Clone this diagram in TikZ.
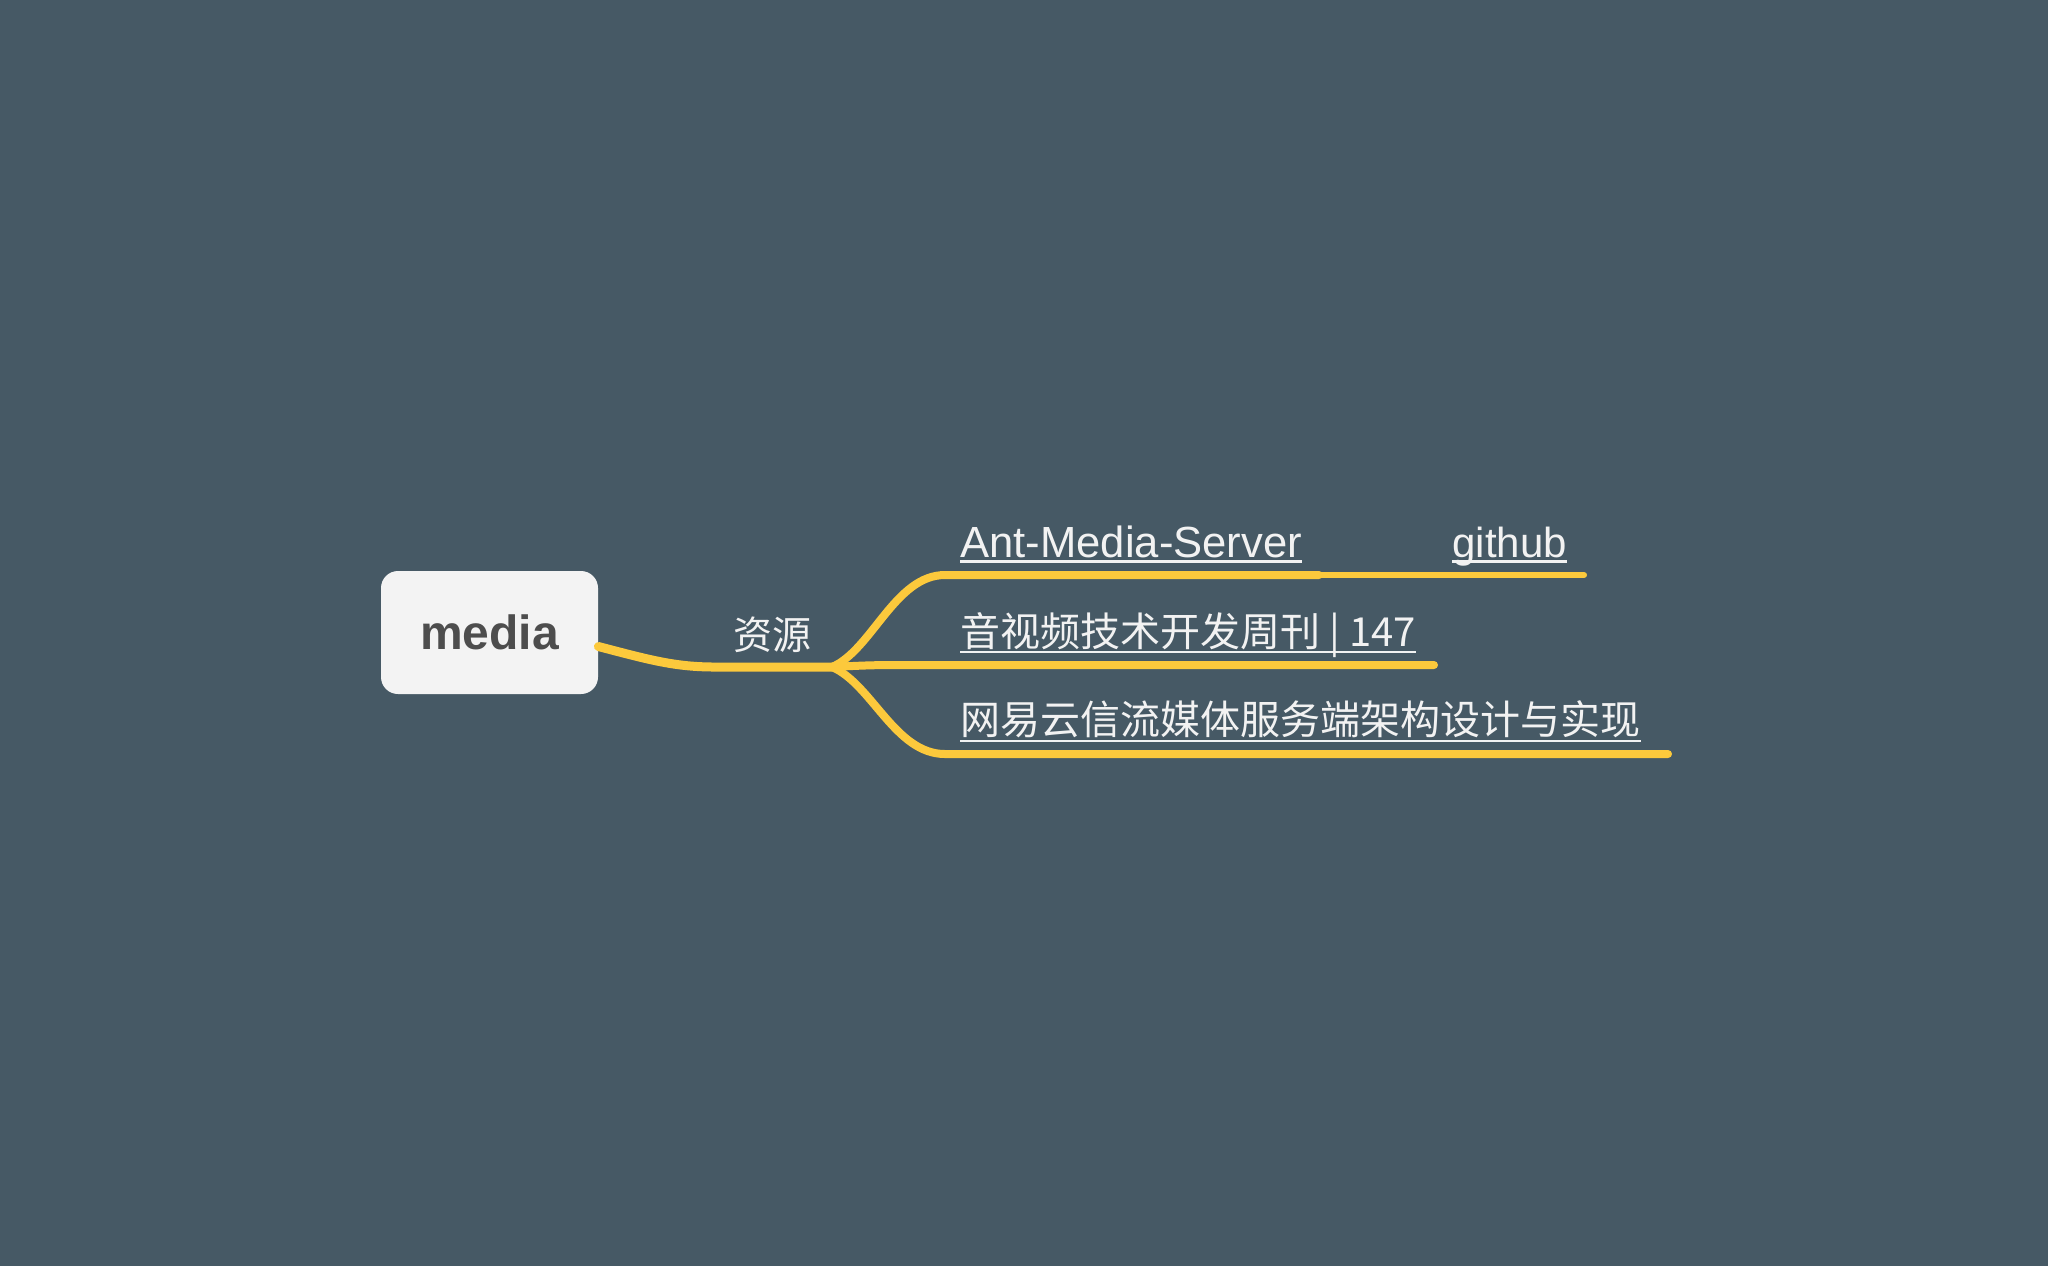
\documentclass[tikz,border=0pt]{standalone}
\usepackage{fontspec}
\setmainfont{Liberation Sans}
\newfontfamily\cjk{Noto Sans CJK SC}
\definecolor{bg}{RGB}{70,89,101}
\definecolor{branch}{RGB}{252,201,60}
\definecolor{rootfill}{RGB}{243,243,243}
\definecolor{roottext}{RGB}{77,77,77}
\definecolor{leaf}{RGB}{242,242,242}
\tikzset{
  rootbox/.style={fill=rootfill, rounded corners=8.5pt, minimum width=108.5pt, minimum height=61.5pt, inner sep=0pt,
    text=roottext, font=\fontsize{24}{28}\selectfont\bfseries},
  latinleaf/.style={inner sep=0pt, text=leaf, anchor=base west, font=\fontsize{21}{24}\selectfont},
  cjkleaf/.style={inner sep=0pt, text=leaf, anchor=base west, font=\cjk\fontsize{20}{24}\selectfont},
  reslabel/.style={inner sep=0pt, text=leaf, font=\cjk\fontsize{19.5}{24}\selectfont},
  mainline/.style={draw=branch, line width=4.5pt, line cap=round},
  branchline/.style={draw=branch, line width=4pt, line cap=round},
  subline/.style={draw=branch, line width=3pt, line cap=round},
  ul/.style={draw=leaf, line width=1.3pt}
}
\begin{document}
\begin{tikzpicture}[x=0.5pt,y=-0.5pt]
\fill[bg] (0,0) rectangle (2048,1266);
\useasboundingbox (0,0) rectangle (2048,1266);

% root
\node[rootbox] (root) at (489.5,632.5) {media};
\node[reslabel] (res) at (772,635) {资源};
\coordinate (j) at (832,667);

% leaf texts
\node[latinleaf, font=\fontsize{21.8}{24}\selectfont] (ams) at (960,557) {Ant-Media-Server};
\node[latinleaf] (gh) at (1452,557) {github};
\node[cjkleaf] (avw) at (960,646) {音视频技术开发周刊 | 147};
\node[cjkleaf] (wy) at (960,734) {网易云信流媒体服务端架构设计与实现};

% line ends
\coordinate (e1) at (1319,575);
\coordinate (e1b) at (1584,575);
\coordinate (e2) at (1434,665);
\coordinate (e3) at (1668,754);

% main connector
\draw[mainline] ([yshift=-7pt]root.east) .. controls (650,660) and (675,667) .. (715,667) -- (j);

% branches
\draw[branchline] (j) .. controls (872,650) and (895,575) .. (945,575) -- (e1);
\draw[subline] (e1) -- (e1b);
\draw[branchline] (j) .. controls (870,665) and (880,665) .. (905,665) -- (e2);
\draw[branchline] (j) .. controls (872,684) and (895,754) .. (945,754) -- (e3);

% underlines
\draw[ul] ([yshift=-2.2pt]ams.base west) -- ([yshift=-2.2pt]ams.base east);
\draw[ul] ([yshift=-2.2pt]gh.base west) -- ([yshift=-2.2pt]gh.base east);
\draw[ul] ([yshift=-3pt]avw.base west) -- ([yshift=-3pt]avw.base east);
\draw[ul] ([yshift=-3.5pt]wy.base west) -- ([yshift=-3.5pt]wy.base east);
\end{tikzpicture}
\end{document}
